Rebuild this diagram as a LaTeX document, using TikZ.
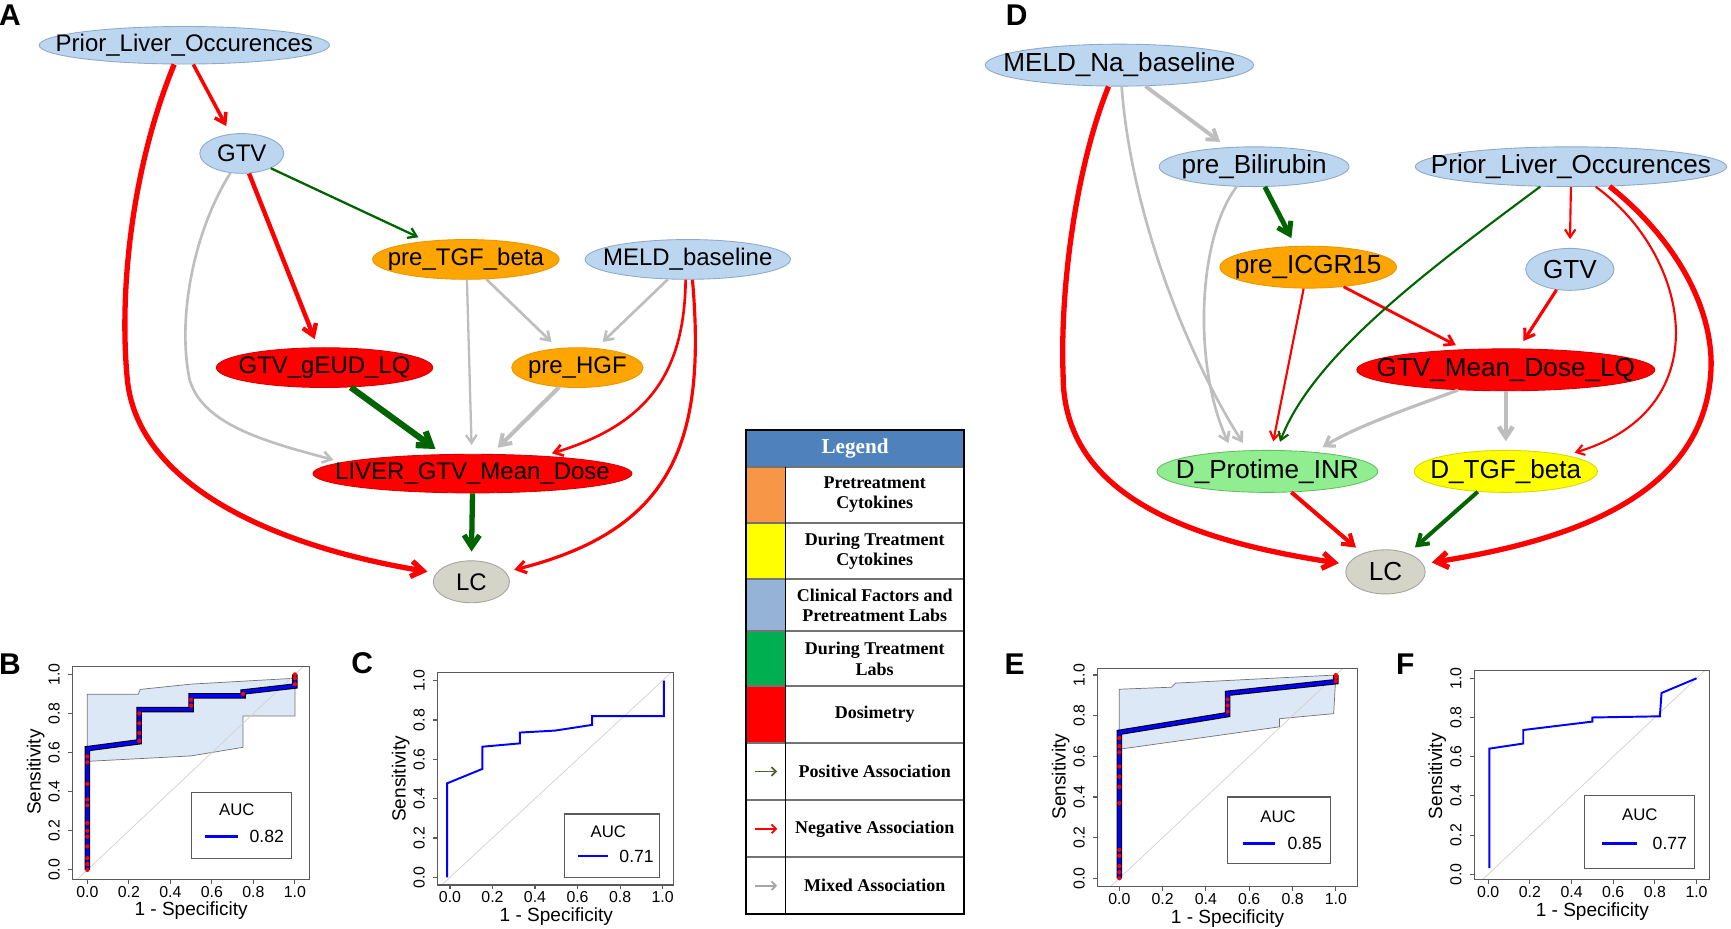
\documentclass[tikz,border=0pt]{standalone}
\usepackage{fontspec}
\setmainfont{Liberation Sans}
\newfontfamily\legfont{Liberation Serif}
\usetikzlibrary{arrows.meta,shapes.geometric}

% node and edge colours
\definecolor{clinblue}{RGB}{189,214,240}
\definecolor{clinedge}{RGB}{140,170,205}
\definecolor{cytoorange}{RGB}{255,165,0}
\definecolor{cytoedge}{RGB}{235,150,0}
\definecolor{doser}{RGB}{255,0,0}
\definecolor{doseedge}{RGB}{215,0,0}
\definecolor{lcgray}{RGB}{212,212,200}
\definecolor{lcedge}{RGB}{165,165,155}
\definecolor{dlabgreen}{RGB}{144,238,144}
\definecolor{dlabedge}{RGB}{100,190,100}
\definecolor{dcytyellow}{RGB}{255,255,0}
\definecolor{dcytedge}{RGB}{215,215,0}
\definecolor{negred}{RGB}{255,0,0}
\definecolor{posgreen}{RGB}{0,100,0}
\definecolor{mixgray}{RGB}{190,190,190}
% legend colours
\definecolor{headblue}{RGB}{79,129,189}
\definecolor{swor}{RGB}{247,150,70}
\definecolor{swye}{RGB}{255,255,0}
\definecolor{swbl}{RGB}{149,179,215}
\definecolor{swgr}{RGB}{0,176,80}
\definecolor{swre}{RGB}{255,0,0}
\definecolor{legpos}{RGB}{79,98,40}
\definecolor{leggray}{RGB}{166,166,166}
% roc colours
\definecolor{ciblue}{RGB}{221,232,246}
\definecolor{framegray}{RGB}{90,90,90}

\newcommand{\ntxt}[1]{\makebox[0pt]{#1}}

% frame, diagonal, ticks and titles of one roc plot
\newcommand{\rocaxes}[5]{%
  \begin{scope}
    \clip (#2,#4) rectangle (#3,#5);
    \draw[diagline] (-0.2,-0.2) -- (1.2,1.2);
  \end{scope}
  \draw[frameline] (#2,#4) rectangle (#3,#5);
  \foreach \va/\vl [count=\k] in {0/0.0,0.2/0.2,0.4/0.4,0.6/0.6,0.8/0.8,1/1.0} {
    \draw[frameline] (\va,#4) -- ++(0pt,-2.5pt);
    \draw[frameline] (#2,\va) -- ++(-2.5pt,0pt);
    \node[ticklab] (#1x\k) at ([yshift=-7pt]\va,#4) {\vl};
    \node[ticklab, rotate=90] (#1y\k) at ([xshift=-10.5pt]#2,\va) {\vl};
  }
  \node[axlab] (#1xl) at ([yshift=-18pt]0.5,#4) {1 - Specificity};
  \node[axlab, rotate=90] (#1yl) at ([xshift=-21pt]#2,0.5) {Sensitivity};
}

\tikzset{
  elnode/.style 2 args={ellipse, inner sep=0pt, line width=0.5pt,
    minimum width=#1*0.022cm, minimum height=#2*0.022cm},
  fa/.style={font=\fontsize{13.6}{16}\selectfont},
  fd/.style={font=\fontsize{14.8}{17}\selectfont},
  clin/.style={fill=clinblue, draw=clinedge},
  cyto/.style={fill=cytoorange, draw=cytoedge},
  dose/.style={fill=doser, draw=doseedge},
  outc/.style={fill=lcgray, draw=lcedge},
  dlab/.style={fill=dlabgreen, draw=dlabedge},
  dcyt/.style={fill=dcytyellow, draw=dcytedge},
  arr/.style={-{Straight Barb[length=3pt 1.2,width=4pt 1.6]}, shorten >=5pt},
  negarr/.style={arr, draw=negred, line width=#1},
  posarr/.style={arr, draw=posgreen, line width=#1},
  mixarr/.style={arr, draw=mixgray, line width=#1},
  panlab/.style={font=\fontsize{17}{20}\selectfont\bfseries, inner sep=0pt},
  leghead/.style={fill=headblue, text=white, inner sep=0pt,
    font=\legfont\fontsize{12}{14}\selectfont\bfseries,
    minimum width=197*0.022cm, minimum height=33.2*0.022cm},
  legtext/.style={align=center, inner sep=0pt,
    font=\legfont\fontsize{10.2}{11.5}\selectfont\bfseries},
  legline/.style={draw=black, line width=0.9pt},
  legsep/.style={draw=black!55, line width=1.1pt},
  legarr/.style={-{Straight Barb[length=2.5pt,width=5pt]}, line width=1pt},
  diagline/.style={draw=black!18, line width=0.4pt},
  frameline/.style={draw=framegray, line width=0.6pt},
  ticklab/.style={inner sep=0pt, font=\fontsize{9}{10}\selectfont},
  axlab/.style={inner sep=0pt, font=\fontsize{10.8}{12}\selectfont},
  auclab/.style={inner sep=0pt, font=\fontsize{9.5}{11}\selectfont},
  aucval/.style={inner sep=0pt, font=\fontsize{10}{12}\selectfont},
  aucbox/.style={draw=framegray, line width=0.6pt},
  aucline/.style={draw=blue, line width=1.6pt},
  ciband/.style={fill=ciblue, draw=black!55, line width=0.4pt},
  rocthin/.style={draw=blue, line width=1.1pt},
  rocedge/.style={draw=black, line width=3.1pt},
  roccore/.style={draw=blue, line width=1.9pt},
  rocdot/.style={fill=red},
}

\begin{document}
\begin{tikzpicture}[x=0.022cm, y=-0.022cm]
\path[use as bounding box, fill=white] (0,0) rectangle (1568,841.5);

% panel A: network
\node[panlab] (pa) at (9,14) {A};
\node[elnode={263}{34}, clin, fa] (prior) at (167,41) {\ntxt{Prior\_Liver\_Occurences}};
\node[elnode={76}{36}, clin, fa] (gtv) at (219,139) {\ntxt{GTV}};
\node[elnode={169}{36}, cyto, fa] (tgf) at (422,235) {\ntxt{pre\_TGF\_beta}};
\node[elnode={186}{36}, clin, fa] (meld) at (623,235) {\ntxt{MELD\_baseline}};
\node[elnode={196}{36}, dose, fa] (geud) at (294,333) {\ntxt{GTV\_gEUD\_LQ}};
\node[elnode={119}{36}, cyto, fa] (hgf) at (523,333) {\ntxt{pre\_HGF}};
\node[elnode={289}{35}, dose, fa] (liver) at (428,429) {\ntxt{LIVER\_GTV\_Mean\_Dose}};
\node[elnode={69}{38}, outc, fa] (lc) at (427,527) {\ntxt{LC}};

\draw[negarr=2pt] (prior.-65) -- (gtv.120);
\draw[negarr=3pt] (prior.-118) .. controls (120,150) and (108,260) .. (115,340)
  .. controls (122,440) and (250,495) .. (lc.166);
\draw[negarr=2.5pt] (gtv.-70) -- (geud.108);
\draw[posarr=1.3pt] (gtv.-27) -- (tgf.155);
\draw[mixarr=1.5pt] (gtv.-120) .. controls (175,210) and (160,290) .. (172,345)
  .. controls (185,385) and (240,400) .. (liver.175);
\draw[posarr=3.5pt] (geud.-37) -- (liver.147);
\draw[mixarr=1.3pt] (tgf.-87) -- (liver.92);
\draw[mixarr=1.5pt] (tgf.-44) -- (hgf.135);
\draw[mixarr=1.5pt] (meld.-135) -- (hgf.46);
\draw[mixarr=2.3pt] (hgf.-133) -- (liver.46);
\draw[negarr=1.5pt] (meld.-96) .. controls (620,340) and (585,385) .. (liver.14);
\draw[negarr=1.8pt] (meld.-77) .. controls (640,400) and (610,480) .. (lc.16);
\draw[posarr=3pt] (liver.-90) -- (lc.90);

% panel D: network
\node[panlab] (pd) at (921,14) {D};
\node[elnode={243}{38}, clin, fd] (mna) at (1014,59) {\ntxt{MELD\_Na\_baseline}};
\node[elnode={172}{36}, clin, fd] (bili) at (1136,151) {\ntxt{pre\_Bilirubin}};
\node[elnode={282}{36}, clin, fd] (prior2) at (1423,151) {\ntxt{Prior\_Liver\_Occurences}};
\node[elnode={160}{38}, cyto, fd] (icg) at (1185,242) {\ntxt{pre\_ICGR15}};
\node[elnode={80}{38}, clin, fd] (gtv2) at (1422,244) {\ntxt{GTV}};
\node[elnode={270}{38}, dose, fd] (mdlq) at (1364,335) {\ntxt{GTV\_Mean\_Dose\_LQ}};
\node[elnode={200}{38}, dlab, fd] (inr) at (1148,427) {\ntxt{D\_Protime\_INR}};
\node[elnode={166}{38}, dcyt, fd] (dtgf) at (1364,427) {\ntxt{D\_TGF\_beta}};
\node[elnode={72}{40}, outc, fd] (lc2) at (1255,518) {\ntxt{LC}};

\draw[mixarr=2.2pt] (mna.-39) -- (bili.144);
\draw[negarr=3pt] (mna.-117) .. controls (975,150) and (960,260) .. (963,340)
  .. controls (963,450) and (1080,490) .. (lc2.169);
\draw[mixarr=1.5pt] (mna.-84) .. controls (1025,200) and (1080,330) .. (inr.133);
\draw[mixarr=1.5pt] (bili.-131) .. controls (1085,215) and (1080,330) .. (inr.150);
\draw[posarr=2.8pt] (bili.-62) -- (icg.121);
\draw[negarr=1.2pt] (icg.-102) -- (inr.79);
\draw[negarr=1.6pt] (icg.-29) -- (mdlq.154);
\draw[posarr=1.2pt] (prior2.-147) .. controls (1300,240) and (1190,320) .. (inr.66);
\draw[negarr=1.2pt] (prior2.-90) -- (gtv2.90);
\draw[negarr=1.2pt] (prior2.-39) .. controls (1530,230) and (1560,370) .. (dtgf.15);
\draw[negarr=3pt] (prior2.-27) .. controls (1510,210) and (1550,270) .. (1550,330)
  .. controls (1548,450) and (1420,490) .. (lc2.12);
\draw[negarr=1.8pt] (gtv2.-123) -- (mdlq.59);
\draw[mixarr=1.8pt] (mdlq.-157) .. controls (1290,365) and (1230,385) .. (inr.22);
\draw[mixarr=2.5pt] (mdlq.-90) -- (dtgf.90);
\draw[negarr=2.3pt] (inr.-41) -- (lc2.141);
\draw[posarr=2.3pt] (dtgf.-144) -- (lc2.39);

% legend
\node[leghead] (leg) at (774.5,406.1) {Legend};
\foreach \yt/\yb/\sw/\txt [count=\i] in {
    422.7/473.4/swor/{Pretreatment\\Cytokines},
    473.4/524.7/swye/{During Treatment\\Cytokines},
    524.7/572/swbl/{Clinical Factors and\\Pretreatment Labs},
    572/621.4/swgr/{During Treatment\\Labs},
    621.4/672.7/swre/{Dosimetry}} {
  \fill[\sw] (676,\yt) rectangle (711.7,\yb);
  \node[legtext] (leg\i) at (792.35,{(\yt+\yb)/2}) {\txt};
}
\foreach \yy/\ac/\txt [count=\i from 6] in {
    698.85/legpos/Positive Association,
    750.8/negred/Negative Association,
    802.3/leggray/Mixed Association} {
  \draw[legarr, draw=\ac] (684,\yy) -- (704,\yy);
  \node[legtext] (leg\i) at (792.35,\yy) {\txt};
}
\foreach \yy in {422.7,473.4,524.7,572,621.4,672.7,725,776.6}
  \draw[legsep] (676,\yy) -- (873,\yy);
\draw[legline] (711.7,422.7) -- (711.7,828);
\draw[legline] (676,389.5) rectangle (873,828);

% panel B: roc
\node[panlab] (pb) at (9,602) {B};
\begin{scope}[shift={(79.1,788)}, x=4.138cm, y=3.898cm]
  \path[ciband] (0,0.555) -- (0,0.898) -- (0.245,0.898) -- (0.255,0.923) -- (0.5,0.95)
    -- (1,0.98) -- (1,0.787) -- (0.75,0.787) -- (0.75,0.627) -- (0.5,0.583) -- cycle;
  \rocaxes{b}{-0.07}{1.072}{-0.048}{1.039}
  \def\bpath{(0,0) -- (0,0.62) -- (0.25,0.655) -- (0.25,0.82) -- (0.5,0.82) -- (0.5,0.89)
    -- (0.75,0.89) -- (0.75,0.91) -- (1,0.94) -- (1,1)}
  \draw[rocedge] \bpath;
  \draw[roccore] \bpath;
  \foreach \px/\py in {0/0,0/0.03,0/0.06,0/0.12,0/0.17,0/0.2,0/0.24,0/0.33,0/0.36,0/0.44,
      0/0.55,0/0.58,0.25/0.66,0.25/0.7,0.25/0.75,0.25/0.8,0.5/0.84,0.5/0.87,0.75/0.9,
      1/0.95,1/0.98,1/1}
    \fill[rocdot] (\px,\py) circle (1.2pt);
  \draw[aucbox] (0.5,0.06) rectangle (0.985,0.395);
  \node[auclab] (bauc) at (0.72,0.307) {AUC};
  \draw[aucline] (0.567,0.17) -- (0.727,0.17);
  \node[aucval] (bval) at (0.864,0.17) {0.82};
\end{scope}

% panel C: roc
\node[panlab] (pc) at (328,601) {C};
\begin{scope}[shift={(407.6,794.7)}, x=4.237cm, y=3.920cm]
  \rocaxes{c}{-0.058}{1.05}{-0.039}{1.042}
  \draw[rocthin] (-0.013,0) -- (-0.013,0.478) -- (0.152,0.551) -- (0.152,0.664) -- (0.329,0.681)
    -- (0.329,0.736) -- (0.494,0.746) -- (0.669,0.775) -- (0.669,0.82) -- (1.006,0.82) -- (1.006,1);
  \draw[aucbox] (0.54,0) rectangle (0.987,0.322);
  \node[auclab] (cauc) at (0.745,0.232) {AUC};
  \draw[aucline] (0.603,0.108) -- (0.745,0.108);
  \node[aucval] (cval) at (0.878,0.108) {0.71};
\end{scope}

% panel E: roc
\node[panlab] (pe) at (919,602) {E};
\begin{scope}[shift={(1013.9,795.6)}, x=4.316cm, y=4.052cm]
  \path[ciband] (0,0.635) -- (0,0.93) -- (0.24,0.94) -- (0.26,0.96) -- (1,1) -- (0.99,0.81)
    -- (0.74,0.785) -- (0.74,0.745) -- cycle;
  \rocaxes{e}{-0.1}{1.1}{-0.041}{1.033}
  \def\epath{(0,0) -- (0,0.718) -- (0.5,0.805) -- (0.5,0.91) -- (1,0.967) -- (1,1)}
  \draw[rocedge] \epath;
  \draw[roccore] \epath;
  \foreach \px/\py in {0/0,0/0.03,0/0.06,0/0.11,0/0.14,0/0.37,0/0.45,0/0.5,0/0.55,0/0.62,
      0/0.65,0/0.69,0.5/0.82,0.5/0.85,0.5/0.88,1/0.97,1/0.99,1/1}
    \fill[rocdot] (\px,\py) circle (1.2pt);
  \draw[aucbox] (0.5,0.074) rectangle (0.975,0.4);
  \node[auclab] (eauc) at (0.733,0.303) {AUC};
  \draw[aucline] (0.571,0.172) -- (0.717,0.172);
  \node[aucval] (eval) at (0.856,0.172) {0.85};
\end{scope}

% panel F: roc
\node[panlab] (pf) at (1273,602) {F};
\begin{scope}[shift={(1348.1,791.9)}, x=4.151cm, y=3.905cm]
  \rocaxes{f}{-0.067}{1.064}{-0.029}{1.04}
  \draw[rocthin] (0.005,0.031) -- (0.005,0.641) -- (0.168,0.667) -- (0.168,0.736) -- (0.5,0.779)
    -- (0.5,0.8) -- (0.824,0.806) -- (0.832,0.925) -- (1,1);
  \draw[aucbox] (0.464,0.031) rectangle (0.992,0.4);
  \node[auclab] (fauc) at (0.728,0.303) {AUC};
  \draw[aucline] (0.544,0.158) -- (0.712,0.158);
  \node[aucval] (fval) at (0.872,0.158) {0.77};
\end{scope}
\end{tikzpicture}
\end{document}
